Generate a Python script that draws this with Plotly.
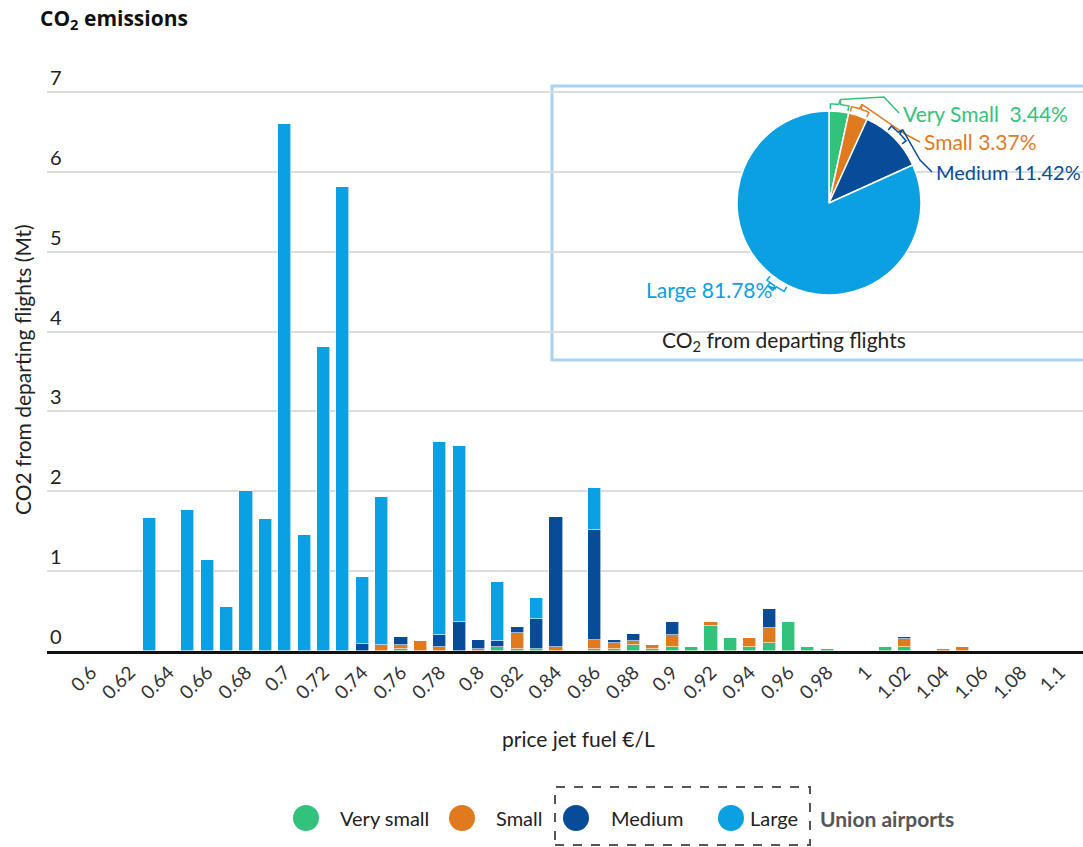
import numpy as np
import plotly.graph_objects as go

# ---- data -------------------------------------------------------------
price = [0.63, 0.65, 0.66, 0.67, 0.68, 0.69, 0.70, 0.71, 0.72, 0.73,
         0.74, 0.75, 0.76, 0.77, 0.78, 0.79, 0.80, 0.81, 0.82, 0.83,
         0.84, 0.86, 0.87, 0.88, 0.89, 0.90, 0.91, 0.92, 0.93, 0.94,
         0.95, 0.96, 0.97, 0.98, 1.01, 1.02, 1.04, 1.05]

very_small = [0, 0, 0, 0, 0, 0, 0, 0, 0, 0,
              0, 0, 0.03, 0, 0, 0, 0, 0.05, 0.03, 0.03,
              0, 0.03, 0.03, 0.07, 0.03, 0.05, 0.05, 0.31, 0.16, 0.05,
              0.10, 0.36, 0.05, 0.03, 0.05, 0.05, 0, 0]
small = [0, 0, 0, 0, 0, 0, 0, 0, 0, 0,
         0, 0.08, 0.04, 0.13, 0.05, 0, 0.03, 0, 0.20, 0,
         0.05, 0.11, 0.07, 0.06, 0.05, 0.15, 0, 0.05, 0, 0.11,
         0.19, 0, 0, 0, 0, 0.10, 0.03, 0.05]
medium = [0, 0, 0, 0, 0, 0, 0, 0, 0, 0,
          0.09, 0, 0.11, 0, 0.15, 0.36, 0.11, 0.08, 0.07, 0.37,
          1.63, 1.38, 0.04, 0.08, 0, 0.16, 0, 0, 0, 0,
          0.24, 0, 0, 0, 0, 0.03, 0, 0]
large = [1.66, 1.76, 1.14, 0.55, 2.00, 1.65, 6.60, 1.45, 3.81, 5.81,
         0.84, 1.85, 0, 0, 2.42, 2.21, 0, 0.73, 0, 0.27,
         0, 0.52, 0, 0, 0, 0, 0, 0, 0, 0,
         0, 0, 0, 0, 0, 0, 0, 0]

tick_labels = ["0.6", "0.62", "0.64", "0.66", "0.68", "0.7", "0.72", "0.74",
               "0.76", "0.78", "0.8", "0.82", "0.84", "0.86", "0.88", "0.9",
               "0.92", "0.94", "0.96", "0.98", "1", "1.02", "1.04", "1.06",
               "1.08", "1.1"]

series_names = ["Very small", "Small", "Medium", "Large"]
series_colors = ["#33c27c", "#e07a1f", "#064c98", "#0ba0e2"]

pie_labels = ["Very Small  3.44%", "Small 3.37%", "Medium 11.42%", "Large 81.78%"]
pie_shares = [3.44, 3.37, 11.42, 81.78]

# ---- page geometry ----------------------------------------------------
W, H = 1083, 847
HEAD = 40                       # headroom above the 7 gridline for its label
ML, MR, MT, MB = 47, 0, 92 - HEAD, 196
PW, PH = W - ML - MR, H - MT - MB
Y_TOP = 7 + HEAD / 79.86
FONT = "Lato"


def px(X):
    return (X - ML) / PW


def py(Y):
    return (H - MB - Y) / PH


def note(text, X, Y, size, color="#222", xanchor="center", family=FONT, **kw):
    return dict(text=text, x=px(X), y=py(Y), xref="paper", yref="paper",
                xanchor=xanchor, yanchor="middle", showarrow=False,
                font=dict(family=family, size=size, color=color), **kw)


fig = go.Figure()

for name, vals, col in zip(series_names, [very_small, small, medium, large], series_colors):
    fig.add_trace(go.Bar(
        x=price, y=[v if v > 0 else None for v in vals], name=name,
        width=0.0068, marker=dict(color=col, line=dict(color="white", width=0.6)),
        showlegend=False,
    ))

# ---- inset pie --------------------------------------------------------
cx, cy, R = 829, 203, 92
fig.add_trace(go.Pie(
    values=pie_shares, labels=pie_labels, sort=False, direction="clockwise",
    rotation=0, textinfo="none", showlegend=False,
    marker=dict(colors=series_colors, line=dict(color="white", width=1.5)),
    domain=dict(x=[px(cx - R), px(cx + R)], y=[py(cy + R), py(cy - R)]),
))

shapes = []
annotations = []

# inset frame
shapes.append(dict(type="rect", xref="paper", yref="paper", layer="between",
                   x0=px(552), x1=px(1096), y0=py(360), y1=py(86),
                   line=dict(color="#a8d2f4", width=3), fillcolor="white"))


def pt(a, r):
    t = np.radians(a)
    return px(cx + r * np.sin(t)), py(cy - r * np.cos(t))


def brace(a0, a1):
    mid = (a0 + a1) / 2
    seg = []
    x, y = pt(a0, R + 2)
    seg.append(f"M{x},{y}")
    for a in np.linspace(a0, mid - 0.6, 8):
        x, y = pt(a, R + 7)
        seg.append(f"L{x},{y}")
    x, y = pt(mid, R + 12)
    seg.append(f"L{x},{y}")
    for a in np.linspace(mid + 0.6, a1, 8):
        x, y = pt(a, R + 7)
        seg.append(f"L{x},{y}")
    x, y = pt(a1, R + 2)
    seg.append(f"L{x},{y}")
    return " ".join(seg), (cx + (R + 12) * np.sin(np.radians(mid)),
                           cy - (R + 12) * np.cos(np.radians(mid)))


# label placement: (text anchor x, y, xanchor, elbow point, font size)
label_pos = [(901, 113, "left", (884, 97), 21),
             (922, 142, "left", (905, 134), 21),
             (934, 172, "left", (920, 160), 20),
             (774, 289, "right", (768, 286), 21)]

bounds = np.concatenate([[0], np.cumsum(pie_shares)]) / sum(pie_shares) * 360
for i, (lab, col) in enumerate(zip(pie_labels, series_colors)):
    a0, a1 = bounds[i], bounds[i + 1]
    if a1 - a0 > 20:
        m = (a0 + a1) / 2
        a0, a1 = m - 6, m + 6
    else:
        a0, a1 = a0 + 0.8, a1 - 0.8
    path, tip = brace(a0, a1)
    lx, ly, anc, elbow, fs = label_pos[i]
    end_x = lx - 2 if anc == "left" else lx + 2
    path += f" M{px(tip[0])},{py(tip[1])} L{px(elbow[0])},{py(elbow[1])} L{px(end_x)},{py(ly)}"
    shapes.append(dict(type="path", xref="paper", yref="paper", path=path,
                       line=dict(color=col, width=1.5), layer="above"))
    annotations.append(note(lab.replace("  ", "&nbsp; "), lx, ly, fs, col, xanchor=anc))

annotations.append(note("CO<sub>2</sub> from departing flights", 784, 341, 21))

# ---- titles -----------------------------------------------------------
annotations.append(note("<b>CO<sub>2</sub> emissions</b>", 38, 19, 21, "#111",
                        xanchor="left", family="Open Sans"))
annotations.append(note("CO2 from departing flights (Mt)", 22, 370, 21, textangle=-90))
annotations.append(note("price jet fuel €/L", 578, 738, 21))

# ---- legend -----------------------------------------------------------
legend_items = [(306, 338), (462, 494), (576, 609), (731, 748)]
for (mx, tx), name, col in zip(legend_items, series_names, series_colors):
    shapes.append(dict(type="circle", xref="paper", yref="paper",
                       xsizemode="pixel", ysizemode="pixel",
                       xanchor=px(mx), yanchor=py(818), x0=-13, x1=13, y0=-13, y1=13,
                       fillcolor=col, line=dict(width=0)))
    annotations.append(note(name, tx, 818, 20, xanchor="left"))
annotations.append(note("<b>Union airports</b>", 818, 818, 21, "#555", xanchor="left"))
shapes.append(dict(type="rect", xref="paper", yref="paper",
                   x0=px(555), x1=px(810), y0=py(845), y1=py(787),
                   line=dict(color="#555", width=2, dash="dash"), fillcolor="rgba(0,0,0,0)"))

fig.update_layout(
    width=W, height=H, barmode="stack", bargap=0,
    margin=dict(l=ML, r=MR, t=MT, b=MB, autoexpand=False),
    paper_bgcolor="white", plot_bgcolor="white",
    font=dict(family=FONT, size=16, color="#333"),
    shapes=shapes, annotations=annotations,
    xaxis=dict(range=[0.5773, 1.112], tickvals=[float(t) for t in tick_labels],
               ticktext=tick_labels, tickangle=-45, ticks="", showgrid=False,
               showline=True, linecolor="#111", linewidth=3, zeroline=False,
               tickfont=dict(family=FONT, size=19, color="#333")),
    yaxis=dict(range=[0, Y_TOP], tickvals=list(range(8)), showgrid=True,
               gridcolor="#dcdcdc", gridwidth=1.5,
               zeroline=False, showline=False, ticks="",
               ticklabelposition="inside top",
               tickfont=dict(family=FONT, size=20, color="#222")),
)

fig.write_html("out.html")
